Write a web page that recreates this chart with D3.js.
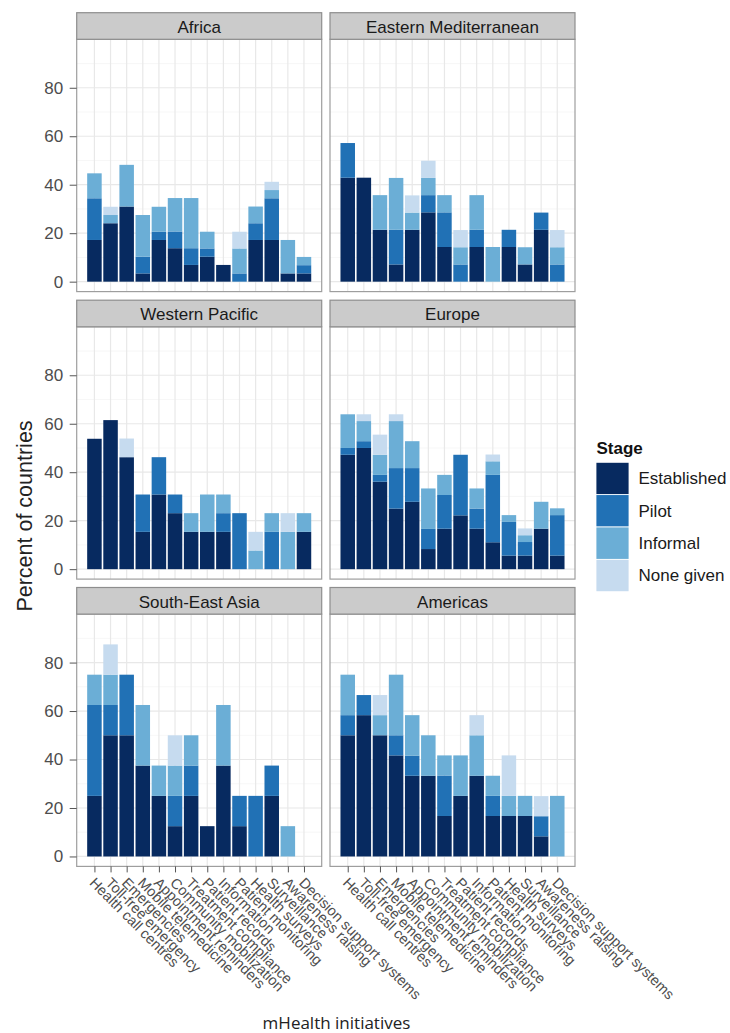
<!DOCTYPE html>
<html><head><meta charset="utf-8">
<script src="https://cdn.jsdelivr.net/npm/d3@7"></script>
<style>body{margin:0;background:#fff}</style>
</head><body><div id="chart"></div>
<script>
// ---------- data ----------
const categories = ["Health call centres","Toll-free emergency","Emergencies","Mobile telemedicine",
  "Appointment reminders","Community mobilization","Treatment compliance","Patient records",
  "Information","Patient monitoring","Health surveys","Surveillance","Awareness raising","Decision support systems"];
const regions = ["Africa","Eastern Mediterranean","Western Pacific","Europe","South-East Asia","Americas"];
const stages = ["Established","Pilot","Informal","None given"];
const stageColors = ["#072a60","#2171b5","#6baed6","#c6dbef"];
const yTicks = [0,20,40,60,80];
const yMinorTicks = [10,30,50,70,90];

const africaEstablished = [17.2,24.1,31.0,3.4,17.2,13.8,6.9,10.3,6.9,0,17.2,17.2,3.4,3.4];
const africaPilot       = [17.2,0,0,6.9,3.4,6.9,6.9,3.4,0,3.4,6.9,17.2,0,3.4];
const africaInformal    = [10.3,3.4,17.2,17.2,10.3,13.8,20.7,6.9,0,10.3,6.9,3.4,13.8,3.4];
const africaNone        = [0,3.4,0,0,0,0,0,0,0,6.9,0,3.4,0,0];

const emrEstablished = [42.9,42.9,21.4,7.1,21.4,28.6,14.3,0,14.3,0,14.3,7.1,21.4,0];
const emrPilot       = [14.3,0,0,14.3,0,7.1,14.3,7.1,7.1,0,7.1,0,7.1,7.1];
const emrInformal    = [0,0,14.3,21.4,7.1,7.1,7.1,7.1,14.3,14.3,0,7.1,0,7.1];
const emrNone        = [0,0,0,0,7.1,7.1,0,7.1,0,0,0,0,0,7.1];

const wprEstablished = [53.8,61.5,46.2,15.4,30.8,23.1,15.4,15.4,15.4,0,0,0,0,15.4];
const wprPilot       = [0,0,0,15.4,15.4,7.7,0,0,7.7,23.1,0,15.4,0,0];
const wprInformal    = [0,0,0,0,0,0,7.7,15.4,7.7,0,7.7,7.7,15.4,7.7];
const wprNone        = [0,0,7.7,0,0,0,0,0,0,0,7.7,0,7.7,0];

const eurEstablished = [47.2,50.0,36.1,25.0,27.8,8.3,16.7,22.2,16.7,11.1,5.6,5.6,16.7,5.6];
const eurPilot       = [2.8,2.8,2.8,16.7,13.9,8.3,13.9,25.0,8.3,27.8,13.9,5.6,0,16.7];
const eurInformal    = [13.9,8.3,8.3,19.4,11.1,16.7,8.3,0,8.3,5.6,2.8,2.8,11.1,2.8];
const eurNone        = [0,2.8,8.3,2.8,0,0,0,0,0,2.8,0,2.8,0,0];

const searEstablished = [25,50,50,37.5,25,12.5,25,12.5,37.5,12.5,0,25,0,0];
const searPilot       = [37.5,12.5,25,0,0,12.5,12.5,0,0,12.5,25,12.5,0,0];
const searInformal    = [12.5,12.5,0,25,12.5,12.5,12.5,0,25,0,0,0,12.5,0];
const searNone        = [0,12.5,0,0,0,12.5,0,0,0,0,0,0,0,0];

const amrEstablished = [50,58.3,50,41.7,33.3,33.3,16.7,25,33.3,16.7,16.7,16.7,8.3,0];
const amrPilot       = [8.3,8.3,0,8.3,8.3,0,16.7,0,0,8.3,0,0,8.3,0];
const amrInformal    = [16.7,0,8.3,25,16.7,16.7,8.3,16.7,16.7,8.3,8.3,8.3,0,25];
const amrNone        = [0,0,8.3,0,0,0,0,0,8.3,0,16.7,0,8.3,0];

const regionSeries = [
  [africaEstablished, africaPilot, africaInformal, africaNone],
  [emrEstablished, emrPilot, emrInformal, emrNone],
  [wprEstablished, wprPilot, wprInformal, wprNone],
  [eurEstablished, eurPilot, eurInformal, eurNone],
  [searEstablished, searPilot, searInformal, searNone],
  [amrEstablished, amrPilot, amrInformal, amrNone]
];

// ---------- layout ----------
const W = 730, H = 1033;
const colX = [76.7, 330];
const rowTop = [39.3, 326.8, 614.1];
const panelW = 245, panelH = 252.3, stripH = 26.6;
const font = "'Liberation Sans', Arial, Helvetica, sans-serif";

const svg = d3.select("#chart").append("svg")
  .attr("width", W).attr("height", H)
  .style("font-family", font);
svg.append("rect").attr("width", W).attr("height", H).attr("fill", "#fff");

const x = d3.scalePoint().domain(categories).range([0, panelW]).padding(1.1);
const y = d3.scaleLinear().domain([-4.1, 100]).range([panelH, 0]);
const color = d3.scaleOrdinal().domain(stages).range(stageColors);
const barW = x.step() * 0.9;

regions.forEach((region, i) => {
  const col = i % 2, row = Math.floor(i / 2);
  const g = svg.append("g").attr("transform", `translate(${colX[col]},${rowTop[row]})`);

  // panel background + grid
  g.append("rect").attr("width", panelW).attr("height", panelH).attr("fill", "#fff");
  g.selectAll(".minor").data(yMinorTicks).join("line")
    .attr("x1", 0).attr("x2", panelW).attr("y1", d => y(d)).attr("y2", d => y(d))
    .attr("stroke", "#f4f4f4").attr("stroke-width", 0.7);
  g.selectAll(".major").data(yTicks).join("line")
    .attr("x1", 0).attr("x2", panelW).attr("y1", d => y(d)).attr("y2", d => y(d))
    .attr("stroke", "#e8e8e8").attr("stroke-width", 1.2);
  g.selectAll(".vgrid").data(categories).join("line")
    .attr("x1", d => x(d)).attr("x2", d => x(d)).attr("y1", 0).attr("y2", panelH)
    .attr("stroke", "#e8e8e8").attr("stroke-width", 1.2);

  // stacked bars
  const rows = categories.map((c, j) => {
    const o = { cat: c };
    stages.forEach((s, k) => o[s] = regionSeries[i][k][j]);
    return o;
  });
  const stacked = d3.stack().keys(stages)(rows);
  stacked.forEach(layer => {
    g.append("g").selectAll("rect").data(layer.filter(d => d[1] - d[0] > 0)).join("rect")
      .attr("x", d => x(d.data.cat) - barW / 2)
      .attr("width", barW)
      .attr("y", d => y(d[1]))
      .attr("height", d => y(d[0]) - y(d[1]))
      .attr("fill", color(layer.key));
  });

  // panel border
  g.append("rect").attr("width", panelW).attr("height", panelH)
    .attr("fill", "none").attr("stroke", "#9e9e9e").attr("stroke-width", 1.2);

  // strip
  g.append("rect").attr("x", 0).attr("y", -stripH).attr("width", panelW).attr("height", stripH)
    .attr("fill", "#cbcbcb").attr("stroke", "#8e8e8e").attr("stroke-width", 1.2);
  g.append("text").attr("x", panelW / 2).attr("y", -stripH + 20)
    .attr("text-anchor", "middle").attr("font-size", 17).attr("fill", "#1a1a1a")
    .text(region);

  // y axis on left column
  if (col === 0) {
    const ya = g.append("g").call(d3.axisLeft(y).tickValues(yTicks).tickSize(7).tickPadding(6.5));
    ya.select(".domain").remove();
    ya.selectAll(".tick line").attr("stroke", "#555");
    ya.selectAll(".tick text").attr("font-size", 17).attr("fill", "#4d4d4d").attr("font-family", font);
  }

  // x axis on bottom row
  if (row === 2) {
    const xa = g.append("g").attr("transform", `translate(0,${panelH})`)
      .call(d3.axisBottom(x).tickSize(6).tickPadding(0));
    xa.select(".domain").remove();
    xa.selectAll(".tick line").attr("stroke", "#555");
    xa.selectAll(".tick text")
      .attr("font-size", 14.5).attr("fill", "#4d4d4d").attr("font-family", font)
      .attr("text-anchor", "start")
      .attr("x", 0).attr("y", 0).attr("dy", "0.71em")
      .attr("transform", "translate(1,10) rotate(45)");
  }
});

// axis titles
svg.append("text")
  .attr("transform", "translate(31.5,516) rotate(-90)")
  .attr("text-anchor", "middle").attr("font-size", 21.5).attr("fill", "#222")
  .text("Percent of countries");
svg.append("text")
  .attr("x", 336.5).attr("y", 1029)
  .attr("text-anchor", "middle").attr("font-size", 17).attr("fill", "#222")
  .attr("font-family", "'Open Sans', sans-serif")
  .text("mHealth initiatives");

// legend
const lg = svg.append("g").attr("transform", "translate(596,462.3)");
lg.append("text").attr("x", 0.5).attr("y", -8.8).attr("font-size", 17).attr("font-weight", "bold")
  .attr("fill", "#111").text("Stage");
const keyH = 32.35;
stages.forEach((s, k) => {
  lg.append("rect").attr("x", 0).attr("y", k * keyH).attr("width", 33).attr("height", keyH)
    .attr("fill", color(s)).attr("stroke", "#fff").attr("stroke-width", 0.8);
  lg.append("text").attr("x", 42.5).attr("y", k * keyH + keyH / 2).attr("dy", "0.35em")
    .attr("font-size", 17).attr("fill", "#1a1a1a").text(s);
});
</script>
</body></html>
